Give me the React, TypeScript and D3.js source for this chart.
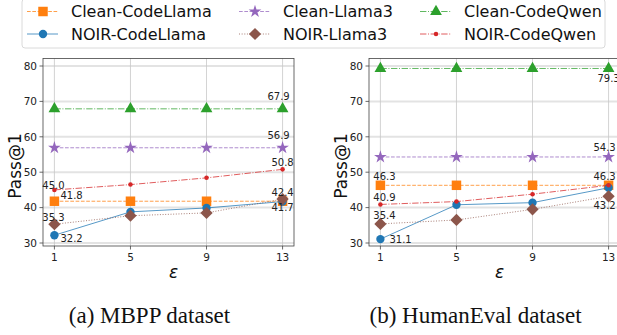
import React from 'react';
import * as d3 from 'd3';

// epsilon values on the x axis
const epsilons = [1, 5, 9, 13];
const yTicks = [30, 40, 50, 60, 70, 80];

// MBPP pass@1
const mbppCleanCodeLlama = [41.8, 41.8, 41.8, 41.8];
const mbppNoirCodeLlama = [32.2, 38.8, 39.9, 41.7];
const mbppCleanLlama3 = [56.9, 56.9, 56.9, 56.9];
const mbppNoirLlama3 = [35.3, 37.7, 38.5, 42.4];
const mbppCleanCodeQwen = [67.9, 67.9, 67.9, 67.9];
const mbppNoirCodeQwen = [45.0, 46.5, 48.4, 50.8];

// HumanEval pass@1
const heCleanCodeLlama = [46.3, 46.3, 46.3, 46.3];
const heNoirCodeLlama = [31.1, 40.8, 41.4, 45.6];
const heCleanLlama3 = [54.3, 54.3, 54.3, 54.3];
const heNoirLlama3 = [35.4, 36.5, 39.5, 43.2];
const heCleanCodeQwen = [79.3, 79.3, 79.3, 79.3];
const heNoirCodeQwen = [40.9, 41.7, 43.8, 46.3];

const seriesNames = [
  'Clean-CodeLlama',
  'NOIR-CodeLlama',
  'Clean-Llama3',
  'NOIR-Llama3',
  'Clean-CodeQwen',
  'NOIR-CodeQwen',
];

const styles: Record<string, any> = {
  'Clean-CodeLlama': { color: '#ff7f0e', dash: '3.7,1.6', symbol: d3.symbolSquare, size: 90, rot: 0 },
  'NOIR-CodeLlama': { color: '#1f77b4', dash: null, symbol: d3.symbolCircle, size: 55, rot: 0 },
  'Clean-Llama3': { color: '#9467bd', dash: '3.7,1.6', symbol: d3.symbolStar, size: 50, rot: 0 },
  'NOIR-Llama3': { color: '#8c564b', dash: '1,1.65', symbol: d3.symbolSquare, size: 75, rot: 45 },
  'Clean-CodeQwen': { color: '#2ca02c', dash: '6.4,1.6,1,1.6', symbol: d3.symbolTriangle, size: 60, rot: 0 },
  'NOIR-CodeQwen': { color: '#d62728', dash: '6.4,1.6,1,1.6', symbol: d3.symbolCircle, size: 16, rot: 0 },
};

const mbpp = [mbppCleanCodeLlama, mbppNoirCodeLlama, mbppCleanLlama3, mbppNoirLlama3, mbppCleanCodeQwen, mbppNoirCodeQwen];
const humaneval = [heCleanCodeLlama, heNoirCodeLlama, heCleanLlama3, heNoirLlama3, heCleanCodeQwen, heNoirCodeQwen];

// which points get a value label: [series index, point index, dx, dy, anchor]
const mbppLabels: [number, number, number, number, string][] = [
  [0, 0, 6, -6, 'start'],
  [5, 0, -1, -5, 'middle'],
  [3, 0, -1, -7, 'middle'],
  [1, 0, 6, 3, 'start'],
  [4, 3, -4, -12, 'middle'],
  [2, 3, -4, -12, 'middle'],
  [5, 3, 0, -7, 'middle'],
  [3, 3, 0, -7, 'middle'],
  [1, 3, 0, 6, 'middle'],
];
const heLabels: [number, number, number, number, string][] = [
  [4, 3, 0, 10, 'middle'],
  [2, 3, -4, -10, 'middle'],
  [0, 0, 4, -9, 'middle'],
  [5, 0, 4, -7, 'middle'],
  [3, 0, 4, -8, 'middle'],
  [1, 0, 9, 0, 'start'],
  [5, 3, -4, -9, 'middle'],
  [3, 3, -4, 9, 'middle'],
];

const top = 58.5;
const bottom = 246;

const marker = (name: string, x: number, y: number, key: string) => {
  const s = styles[name];
  const path = d3.symbol().type(s.symbol).size(s.size)() as string;
  return (
    <path key={key} d={path} fill={s.color} transform={`translate(${x},${y}) rotate(${s.rot})`} />
  );
};

const Panel = ({ data, labels, left }: { data: number[][]; labels: any[]; left: number }) => {
  const x = d3.scaleLinear().domain([0.4, 13.6]).range([left, left + 251]);
  const y = d3.scaleLinear().domain([30, 80]).range([243, 66]);
  const line = d3.line<number>().x((_, i) => x(epsilons[i])).y((d) => y(d));
  const r = x.range();
  return (
    <g>
      {yTicks.map((t) => (
        <line key={'gy' + t} x1={r[0]} x2={r[1]} y1={y(t)} y2={y(t)} stroke="#e3e3e3" strokeWidth={2} />
      ))}
      {epsilons.map((t) => (
        <line key={'gx' + t} x1={x(t)} x2={x(t)} y1={top} y2={bottom} stroke="#c8c8c8" strokeWidth={0.8} />
      ))}
      <rect x={r[0]} y={top} width={r[1] - r[0]} height={bottom - top} fill="none" stroke="#444" strokeWidth={0.8} />
      {yTicks.map((t) => (
        <g key={'ty' + t}>
          <line x1={r[0] - 3.5} x2={r[0]} y1={y(t)} y2={y(t)} stroke="#444" strokeWidth={0.8} />
          <text x={r[0] - 6} y={y(t)} dy="0.36em" textAnchor="end" fontSize={10.5} fill="#222">
            {t}
          </text>
        </g>
      ))}
      {epsilons.map((t) => (
        <g key={'tx' + t}>
          <line x1={x(t)} x2={x(t)} y1={bottom} y2={bottom + 3.5} stroke="#444" strokeWidth={0.8} />
          <text x={x(t)} y={261} textAnchor="middle" fontSize={10.5} fill="#222">
            {t}
          </text>
        </g>
      ))}
      {data.map((vals, si) => {
        const s = styles[seriesNames[si]];
        return (
          <g key={'s' + si}>
            <path d={line(vals) as string} fill="none" stroke={s.color} strokeOpacity={0.75} strokeWidth={1}
              strokeDasharray={s.dash || undefined} />
            {vals.map((v, i) => marker(seriesNames[si], x(epsilons[i]), y(v), `m${si}-${i}`))}
          </g>
        );
      })}
      {labels.map(([si, i, dx, dy, anchor]: any, k: number) => (
        <text key={'l' + k} x={x(epsilons[i]) + dx} y={y(data[si][i]) + dy} dy="0.36em" textAnchor={anchor}
          fontSize={10} fill="#222">
          {data[si][i].toFixed(1)}
        </text>
      ))}
      <text x={(r[0] + r[1]) / 2 + 5} y={278} textAnchor="middle" fontSize={17} fontStyle="italic" fill="#111">
        ε
      </text>
      <text transform={`translate(${r[0] - 22},166) rotate(-90)`} textAnchor="middle" fontSize={17} fill="#111">
        Pass@1
      </text>
    </g>
  );
};

const legendCols = [27, 239, 420];

export default function App() {
  return (
    <svg width={617} height={335} style={{ position: 'absolute', left: 0, top: 0, background: '#fff' }}
      fontFamily="'DejaVu Sans', sans-serif">
      <Panel data={mbpp} labels={mbppLabels} left={43} />
      <Panel data={humaneval} labels={heLabels} left={369} />
      <rect x={22} y={-1} width={583} height={49} rx={3} fill="#fff" fillOpacity={0.85} stroke="#d0d0d0" strokeWidth={0.8} />
      {seriesNames.map((name, i) => {
        const cx = legendCols[Math.floor(i / 2)];
        const cy = i % 2 === 0 ? 11.5 : 34;
        const s = styles[name];
        return (
          <g key={'lg' + name}>
            <line x1={cx} x2={cx + 31} y1={cy} y2={cy} stroke={s.color} strokeOpacity={0.75} strokeWidth={1}
              strokeDasharray={s.dash || undefined} />
            {marker(name, cx + 16, cy, 'lm' + i)}
            <text x={cx + 44} y={cy} dy="0.36em" fontSize={16} fill="#111">
              {name}
            </text>
          </g>
        );
      })}
      <text x={149.5} y={323} textAnchor="middle" fontSize={23} fontFamily="'Liberation Serif', serif" fill="#111">
        (a) MBPP dataset
      </text>
      <text x={475.5} y={323} textAnchor="middle" fontSize={23} fontFamily="'Liberation Serif', serif" fill="#111">
        (b) HumanEval dataset
      </text>
    </svg>
  );
}
